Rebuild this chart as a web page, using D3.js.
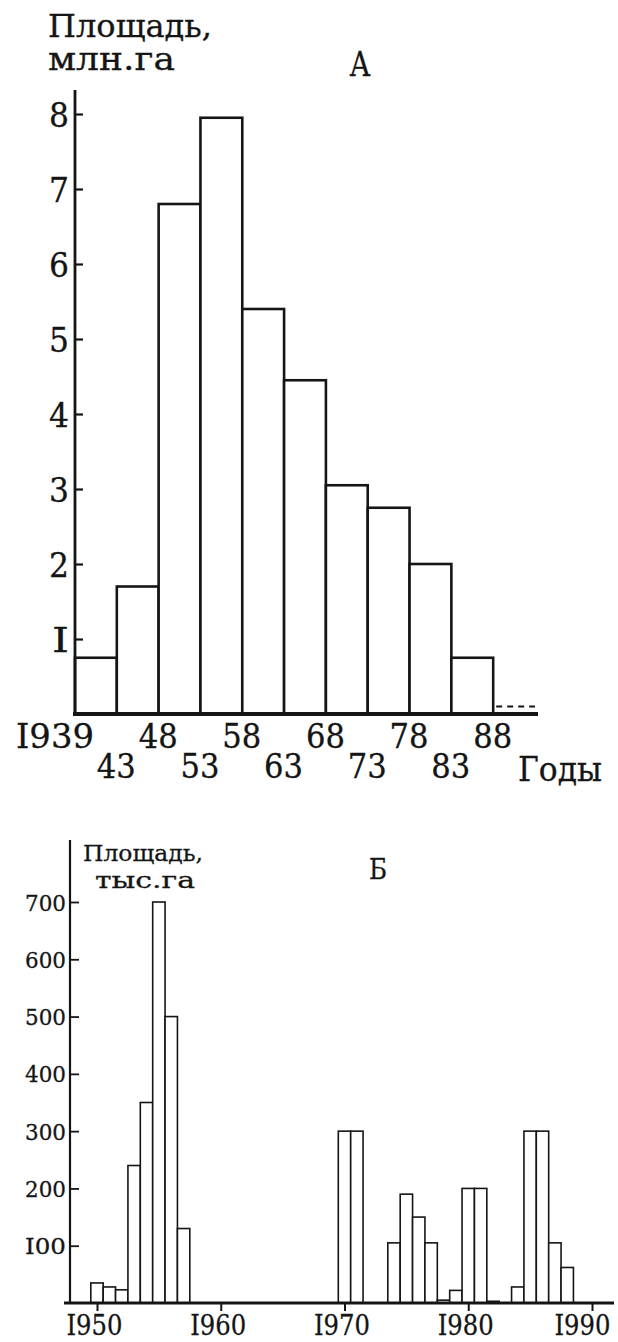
<!DOCTYPE html>
<html>
<head>
<meta charset="utf-8">
<script src="https://cdn.jsdelivr.net/npm/d3@7/dist/d3.min.js"></script>
<style>
  body { margin: 0; background: #fff; }
  svg { display: block; }
  .tw { font-family: "DejaVu Serif", "Liberation Serif", serif; fill: #151515; stroke: #151515; stroke-width: 0.3px; }
</style>
</head>
<body>
<svg id="chart" width="618" height="1342"></svg>
<script>
// ---- panel A: area by five-year periods, mln ha ----
var periodsA = ['1939-43', '1943-48', '1948-53', '1953-58', '1958-63', '1963-68',
                '1968-73', '1973-78', '1978-83', '1983-88', '1988-93'];
var valuesA = [0.75, 1.7, 6.8, 7.95, 5.4, 4.45, 3.05, 2.75, 2.0, 0.75, 0.1];
var boundaryLabelsA = ['I939', '43', '48', '53', '58', '63', '68', '73', '78', '83', '88'];
var ticksA = [1, 2, 3, 4, 5, 6, 7, 8];
var tickLabelsA = ['I', '2', '3', '4', '5', '6', '7', '8'];

// ---- panel B: area by year, thousand ha ----
var yearsB  = [1950, 1951, 1952, 1953, 1954, 1955, 1956, 1957,
               1970, 1971, 1974, 1975, 1976, 1977, 1978, 1979,
               1980, 1981, 1982, 1984, 1985, 1986, 1987, 1988];
var valuesB = [35, 28, 23, 240, 350, 700, 500, 130,
               300, 300, 105, 190, 150, 105, 5, 22,
               200, 200, 3, 28, 300, 300, 105, 62];
var ticksB = [100, 200, 300, 400, 500, 600, 700];
var tickLabelsB = ['I00', '200', '300', '400', '500', '600', '700'];
var yearTicksB = [1950, 1960, 1970, 1980, 1990];
var yearLabelsB = ['I950', 'I960', 'I970', 'I980', 'I990'];

var svg = d3.select('#chart');

// typewritten text, squeezed to the width it has on the page
function typeText(g, str, x, y, size, len, anchor) {
    var t = g.append('text')
        .attr('class', 'tw')
        .attr('x', x).attr('y', y)
        .attr('text-anchor', anchor || 'start')
        .style('font-size', size + 'px')
        .text(str);
    if (len) t.attr('textLength', len).attr('lengthAdjust', 'spacingAndGlyphs');
    return t;
}

// ================= A =================
var gA = svg.append('g');
var xA = d3.scaleBand().domain(periodsA).range([75, 535]).padding(0);
var yA = d3.scaleLinear().domain([0, 8]).range([714, 114]);

// bars (last one is only a dashed top)
gA.selectAll('rect.barA').data(valuesA.slice(0, 10)).enter().append('rect')
    .attr('class', 'barA')
    .attr('x', function(d, i) { return xA(periodsA[i]); })
    .attr('width', xA.bandwidth())
    .attr('y', function(d) { return yA(d); })
    .attr('height', function(d) { return yA(0) - yA(d); })
    .style('fill', '#fff').style('stroke', '#151515').style('stroke-width', '2.6px');

var last = periodsA.length - 1;
gA.append('line')
    .attr('x1', xA(periodsA[last]) + 3).attr('x2', xA(periodsA[last]) + xA.bandwidth())
    .attr('y1', yA(valuesA[last])).attr('y2', yA(valuesA[last]))
    .style('stroke', '#151515').style('stroke-width', '2px').style('stroke-dasharray', '6,5');

// y axis: ticks pointing inward, labels on the left
var yAxisA = d3.axisLeft(yA).tickValues(ticksA).tickSize(-8).tickSizeOuter(0).tickPadding(6)
    .tickFormat(function(d, i) { return tickLabelsA[i]; });
var axA = gA.append('g').attr('transform', 'translate(75,0)').call(yAxisA);
axA.select('.domain').remove();
axA.selectAll('line').style('stroke', '#151515').style('stroke-width', '2.2px');
axA.selectAll('text')
    .attr('class', 'tw')
    .attr('dy', null).attr('y', 12)
    .attr('textLength', function(d) { return d === 1 ? 17 : 20; })
    .attr('lengthAdjust', 'spacingAndGlyphs')
    .style('font-size', '34px').style('font-family', null);
gA.append('line')
    .attr('x1', 75).attr('x2', 75).attr('y1', 90).attr('y2', yA(0))
    .style('stroke', '#151515').style('stroke-width', '2.8px');

// baseline
gA.append('line')
    .attr('x1', 73).attr('x2', 538).attr('y1', yA(0)).attr('y2', yA(0))
    .style('stroke', '#151515').style('stroke-width', '4px');

// period boundary labels, two rows
boundaryLabelsA.forEach(function(lab, i) {
    var bx = xA(periodsA[i]) + 19;
    var row = i % 2 === 0 ? 748 : 778;
    typeText(gA, lab, bx, row, 34, lab.length * 19.5, 'end');
});
typeText(gA, 'Годы', 518, 781, 34, 84);

// titles
typeText(gA, 'Площадь,', 48, 37, 31, 164);
typeText(gA, 'млн.га', 48, 70, 31, 127);
typeText(gA, 'А', 360, 76, 33, 21, 'middle');

// ================= Б =================
var gB = svg.append('g');
var xB = d3.scaleLinear().domain([1950, 1990]).range([97, 592]);
var yB = d3.scaleLinear().domain([0, 700]).range([1303, 902]);
var bw = xB(1951) - xB(1950);

gB.selectAll('rect.barB').data(valuesB).enter().append('rect')
    .attr('class', 'barB')
    .attr('x', function(d, i) { return xB(yearsB[i]) - bw / 2; })
    .attr('width', bw)
    .attr('y', function(d) { return yB(d); })
    .attr('height', function(d) { return yB(0) - yB(d); })
    .style('fill', '#fff').style('stroke', '#151515').style('stroke-width', '1.6px');

var yAxisB = d3.axisLeft(yB).tickValues(ticksB).tickSize(-9).tickSizeOuter(0).tickPadding(4)
    .tickFormat(function(d, i) { return tickLabelsB[i]; });
var axB = gB.append('g').attr('transform', 'translate(70,0)').call(yAxisB);
axB.select('.domain').remove();
axB.selectAll('line').style('stroke', '#151515').style('stroke-width', '1.8px');
axB.selectAll('text')
    .attr('class', 'tw')
    .attr('dy', null).attr('y', 8)
    .attr('textLength', 41)
    .attr('lengthAdjust', 'spacingAndGlyphs')
    .style('font-size', '23px').style('font-family', null);
gB.append('line')
    .attr('x1', 70).attr('x2', 70).attr('y1', 840).attr('y2', yB(0))
    .style('stroke', '#151515').style('stroke-width', '2.2px');

var xAxisB = d3.axisBottom(xB).tickValues(yearTicksB).tickSize(8).tickSizeOuter(0).tickPadding(6)
    .tickFormat(function(d, i) { return yearLabelsB[i]; });
var axXB = gB.append('g').attr('transform', 'translate(0,' + yB(0) + ')').call(xAxisB);
axXB.select('.domain').remove();
axXB.selectAll('line').style('stroke', '#151515').style('stroke-width', '2px');
axXB.selectAll('text')
    .attr('class', 'tw')
    .attr('dy', null).attr('y', 32)
    .attr('x', function(d) { return d === 1990 ? -10 : -3; })
    .attr('textLength', 56)
    .attr('lengthAdjust', 'spacingAndGlyphs')
    .style('font-size', '28px').style('font-family', null);
gB.append('line')
    .attr('x1', 64).attr('x2', 614).attr('y1', yB(0)).attr('y2', yB(0))
    .style('stroke', '#151515').style('stroke-width', '2.8px');

typeText(gB, 'Площадь,', 83, 861, 22, 120);
typeText(gB, 'тыс.га', 95, 888, 22, 100);
typeText(gB, 'Б', 378, 879, 28, 18, 'middle');
</script>
</body>
</html>
